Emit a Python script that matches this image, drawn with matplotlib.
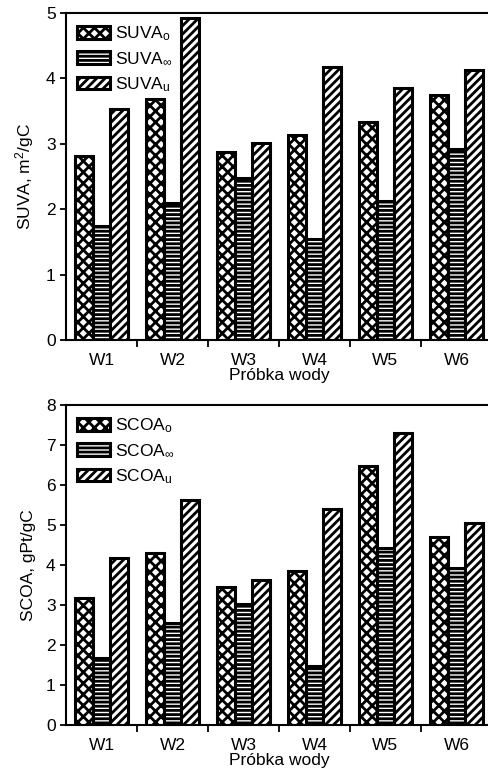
import numpy as np
import matplotlib
matplotlib.use('Agg')
import matplotlib.pyplot as plt

plt.rcParams['font.family'] = ['Liberation Sans', 'DejaVu Sans']
plt.rcParams['mathtext.fontset'] = 'custom'
plt.rcParams['mathtext.rm'] = 'Liberation Sans'
plt.rcParams['mathtext.it'] = 'Liberation Sans'
plt.rcParams['mathtext.sf'] = 'Liberation Sans'
plt.rcParams['mathtext.default'] = 'rm'
plt.rcParams['hatch.linewidth'] = 2.0
plt.rcParams['hatch.color'] = 'black'

# dane
probki = ['W1', 'W2', 'W3', 'W4', 'W5', 'W6']

suva_o = [2.82, 3.69, 2.87, 3.14, 3.34, 3.74]
suva_inf = [1.74, 2.09, 2.47, 1.54, 2.12, 2.92]
suva_u = [3.53, 4.92, 3.02, 4.17, 3.85, 4.13]

scoa_o = [3.18, 4.29, 3.45, 3.84, 6.47, 4.69]
scoa_inf = [1.67, 2.55, 3.02, 1.47, 4.43, 3.92]
scoa_u = [4.18, 5.63, 3.62, 5.39, 7.31, 5.06]

hatches = ['xxx', '----', '////']


def rysuj(ax, serie, etykiety, ylabel, ymax):
    x = np.arange(len(probki))
    w = 0.25
    for i, (vals, lab) in enumerate(zip(serie, etykiety)):
        ax.bar(x + (i - 1) * w, vals, width=w, color='white', edgecolor='black',
               linewidth=2.2, hatch=hatches[i], label=lab)

    ax.set_xlim(-0.5, 5.5)
    ax.set_ylim(0, ymax)
    ax.set_yticks(np.arange(0, ymax + 1, 1))
    ax.set_xticks(x)
    ax.set_xticklabels(probki, fontsize=12.5)
    ax.set_xticks(np.arange(0.5, 5.5, 1), minor=True)
    ax.tick_params(axis='x', which='major', length=0, pad=9)
    ax.tick_params(axis='x', which='minor', length=5, width=1.3, direction='out')
    ax.tick_params(axis='y', length=4, width=1.3, direction='out', labelsize=12.5)
    for s in ax.spines.values():
        s.set_linewidth(1.5)
    ax.set_xlabel('Próbka wody', fontsize=12.5, labelpad=0)
    ax.set_ylabel(ylabel, fontsize=12.5, labelpad=7)

    ax.legend(loc='upper left', frameon=False, fontsize=12.5, handlelength=1.9,
              handleheight=0.75, labelspacing=0.45, handletextpad=0.25,
              borderaxespad=0.25, bbox_to_anchor=(0.0, 1.0))


fig = plt.figure(figsize=(4.89, 7.74), dpi=100)
ax1 = fig.add_axes([0.135, 0.5607, 0.871, 0.4225])
ax2 = fig.add_axes([0.135, 0.0633, 0.871, 0.4134])

rysuj(ax1, [suva_o, suva_inf, suva_u],
      [r'SUVA$_{o}$', r'SUVA$_{\infty}$', r'SUVA$_{u}$'],
      r'SUVA, m$^{2}$/gC', 5)
rysuj(ax2, [scoa_o, scoa_inf, scoa_u],
      [r'SCOA$_{o}$', r'SCOA$_{\infty}$', r'SCOA$_{u}$'],
      'SCOA, gPt/gC', 8)

fig.savefig('out.png', dpi=100)
